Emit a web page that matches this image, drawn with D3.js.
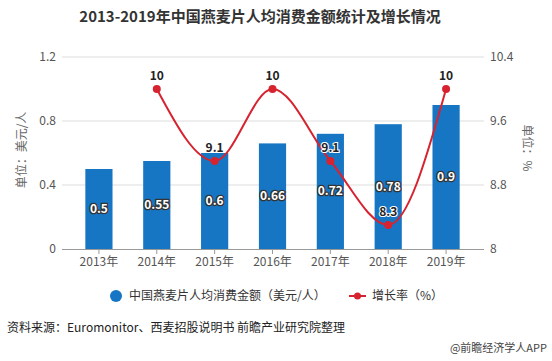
<!DOCTYPE html>
<html>
<head>
<meta charset="utf-8">
<script src="https://cdn.jsdelivr.net/npm/d3@7"></script>
<style>
  body { margin: 0; background: #fff; }
  text { font-family: "Microsoft YaHei", "Noto Sans CJK SC", sans-serif; }
</style>
</head>
<body>
<div id="chart"></div>
<script>
// Chinese oatmeal per-capita spending and growth rate
var years = ["2013年", "2014年", "2015年", "2016年", "2017年", "2018年", "2019年"];
var spending = [0.5, 0.55, 0.6, 0.66, 0.72, 0.78, 0.9];
var growthYears = ["2014年", "2015年", "2016年", "2017年", "2018年", "2019年"];
var growth = [10, 9.1, 10, 9.1, 8.3, 10];
var leftTicks = [0, 0.4, 0.8, 1.2];
var rightTicks = [8, 8.8, 9.6, 10.4];

var svgWidth = 552, svgHeight = 361;
var barColor = "#1776c4", lineColor = "#d6232f";

var svg = d3.select("#chart").append("svg")
    .attr("width", svgWidth)
    .attr("height", svgHeight);

// plot box
var plotTop = 57, plotBottom = 249, gridLeft = 62, gridRight = 484;

var x = d3.scaleBand().domain(years).range([70, 475]).paddingInner(0.53).paddingOuter(0.265);
var yLeft = d3.scaleLinear().domain([0, 1.2]).range([plotBottom, plotTop]);
var yRight = d3.scaleLinear().domain([8, 10.4]).range([plotBottom, plotTop]);

// title
svg.append("text")
    .attr("x", 260).attr("y", 22)
    .attr("text-anchor", "middle")
    .attr("font-size", "15px").attr("font-weight", "bold")
    .attr("fill", "#333")
    .text("2013-2019年中国燕麦片人均消费金额统计及增长情况");

// grid lines
svg.append("g").selectAll("line")
    .data(leftTicks.slice(1))
    .enter().append("line")
    .attr("x1", gridLeft).attr("x2", gridRight)
    .attr("y1", d => yLeft(d)).attr("y2", d => yLeft(d))
    .attr("stroke", "#ddd").attr("stroke-width", 1);

// left axis
var leftAxis = svg.append("g")
    .attr("transform", `translate(${gridLeft - 6}, 0)`)
    .call(d3.axisLeft(yLeft).tickValues(leftTicks).tickSize(0).tickPadding(0).tickFormat(d => d));
leftAxis.select(".domain").remove();
leftAxis.selectAll("text").attr("font-size", "12px").attr("fill", "#555");

// right axis
var rightAxis = svg.append("g")
    .attr("transform", `translate(${gridRight + 6}, 0)`)
    .call(d3.axisRight(yRight).tickValues(rightTicks).tickSize(0).tickPadding(0).tickFormat(d => d));
rightAxis.select(".domain").remove();
rightAxis.selectAll("text").attr("font-size", "12px").attr("fill", "#555");

// axis titles
svg.append("text")
    .attr("transform", "translate(26, 150) rotate(-90)")
    .attr("text-anchor", "middle")
    .attr("font-size", "12px").attr("fill", "#666")
    .text("单位：美元/人");
svg.append("text")
    .attr("transform", "translate(523, 148) rotate(90)")
    .attr("text-anchor", "middle")
    .attr("font-size", "12px").attr("fill", "#666")
    .text("单位：%");

// bars
svg.append("g").selectAll("rect")
    .data(spending)
    .enter().append("rect")
    .attr("x", (d, i) => x(years[i]))
    .attr("y", d => yLeft(d))
    .attr("width", x.bandwidth())
    .attr("height", d => plotBottom - yLeft(d))
    .attr("fill", barColor);

// x axis
var xAxis = svg.append("g")
    .attr("transform", `translate(0, ${plotBottom})`)
    .call(d3.axisBottom(x).tickSize(5).tickPadding(3));
xAxis.select(".domain").attr("d", `M${gridLeft},0.5H${gridRight}`).attr("stroke", "#999");
xAxis.selectAll(".tick line").attr("stroke", "#999");
xAxis.selectAll("text").attr("font-size", "12px").attr("fill", "#555");

// bar labels
svg.append("g").selectAll("text")
    .data(spending)
    .enter().append("text")
    .attr("x", (d, i) => x(years[i]) + x.bandwidth() / 2)
    .attr("y", d => (yLeft(d) + plotBottom) / 2 + 4)
    .attr("text-anchor", "middle")
    .attr("font-size", "12px").attr("font-weight", "bold")
    .attr("fill", "#fff")
    .attr("stroke", "#333").attr("stroke-width", 2.5)
    .attr("paint-order", "stroke")
    .text(d => d);

// growth line
var line = d3.line()
    .x((d, i) => x(growthYears[i]) + x.bandwidth() / 2)
    .y(d => yRight(d))
    .curve(d3.curveMonotoneX);

svg.append("path")
    .datum(growth)
    .attr("d", line)
    .attr("fill", "none")
    .attr("stroke", lineColor)
    .attr("stroke-width", 2);

svg.append("g").selectAll("circle")
    .data(growth)
    .enter().append("circle")
    .attr("cx", (d, i) => x(growthYears[i]) + x.bandwidth() / 2)
    .attr("cy", d => yRight(d))
    .attr("r", 4)
    .attr("fill", lineColor);

svg.append("g").selectAll("text")
    .data(growth)
    .enter().append("text")
    .attr("x", (d, i) => x(growthYears[i]) + x.bandwidth() / 2)
    .attr("y", d => yRight(d) - 9)
    .attr("text-anchor", "middle")
    .attr("font-size", "12px").attr("font-weight", "bold")
    .attr("fill", "#222")
    .attr("stroke", "#fff").attr("stroke-width", 2)
    .attr("paint-order", "stroke")
    .text(d => d);

// legend
var legend = svg.append("g");
legend.append("circle").attr("cx", 116).attr("cy", 296).attr("r", 6).attr("fill", barColor);
legend.append("text").attr("x", 129).attr("y", 300)
    .attr("font-size", "12px").attr("fill", "#333")
    .text("中国燕麦片人均消费金额（美元/人）");
legend.append("line").attr("x1", 349).attr("x2", 366).attr("y1", 296).attr("y2", 296)
    .attr("stroke", lineColor).attr("stroke-width", 2);
legend.append("circle").attr("cx", 357.5).attr("cy", 296).attr("r", 3.5).attr("fill", lineColor);
legend.append("text").attr("x", 372).attr("y", 300)
    .attr("font-size", "12px").attr("fill", "#333")
    .text("增长率（%）");

// source and credit
svg.append("text")
    .attr("x", 7).attr("y", 332)
    .attr("font-size", "12px").attr("fill", "#222")
    .text("资料来源：Euromonitor、西麦招股说明书 前瞻产业研究院整理");
svg.append("text")
    .attr("x", 547).attr("y", 352)
    .attr("text-anchor", "end")
    .attr("font-size", "11px").attr("fill", "#444")
    .text("@前瞻经济学人APP");
</script>
</body>
</html>
